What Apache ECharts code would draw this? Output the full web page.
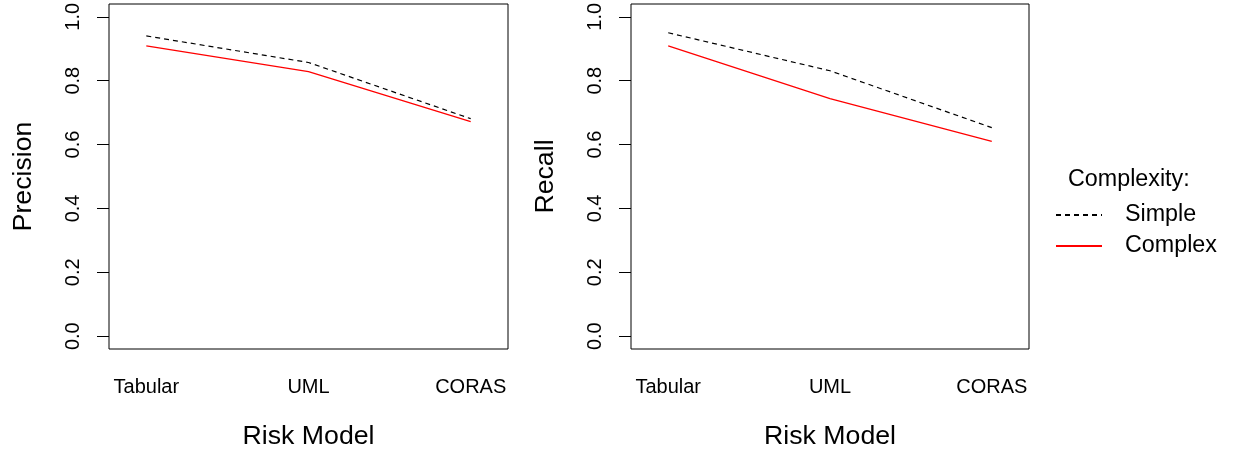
<!DOCTYPE html>
<html>
<head>
<meta charset="utf-8">
<script src="https://cdn.jsdelivr.net/npm/echarts@6/dist/echarts.min.js"></script>
<style>
html,body{margin:0;padding:0;background:#fff;}
#chart{width:1234px;height:455px;}
</style>
</head>
<body>
<div id="chart"></div>
<script>
const categories = ['Tabular', 'UML', 'CORAS'];
const precisionSimple = [0.940, 0.857, 0.681];
const precisionComplex = [0.909, 0.828, 0.672];
const recallSimple = [0.950, 0.831, 0.653];
const recallComplex = [0.909, 0.744, 0.610];
const yTicks = [0, 0.2, 0.4, 0.6, 0.8, 1.0];
const xTicks = categories.map((c, i) => i + 1);
const panelTitles = ['Precision', 'Recall'];
const xTitle = 'Risk Model';
const legendTitle = 'Complexity:';
const seriesNames = ['Simple', 'Complex'];

const FONT = 'Liberation Sans, Arial, sans-serif';
const toPts = arr => arr.map((v, i) => [i + 1, v]);

const grids = [
  {left: 109, top: 4, width: 399, height: 348},
  {left: 631, top: 4, width: 398, height: 348}
];

function xAxis(idx) {
  return {
    type: 'value', gridIndex: idx, min: 0.77, max: 3.23,
    name: xTitle, nameLocation: 'middle', nameGap: 74,
    nameTextStyle: {fontFamily: FONT, fontSize: 26.7, color: '#000'},
    axisLine: {show: false}, axisTick: {show: false}, splitLine: {show: false},
    axisLabel: {
      customValues: xTicks, margin: 28, fontFamily: FONT, fontSize: 20, color: '#000',
      formatter: v => categories[Math.round(v) - 1] || ''
    }
  };
}
function yAxis(idx) {
  return {
    type: 'value', gridIndex: idx, min: -0.04, max: 1.04,
    name: panelTitles[idx], nameLocation: 'middle', nameGap: 72, nameRotate: 90,
    nameTextStyle: {fontFamily: FONT, fontSize: 26.7, color: '#000'},
    axisLine: {show: false}, splitLine: {show: false},
    axisTick: {show: true, inside: false, length: 12, customValues: yTicks,
      lineStyle: {color: '#000', width: 1}},
    axisLabel: {customValues: yTicks, rotate: 90, margin: 26, fontFamily: FONT,
      fontSize: 20, color: '#000', formatter: v => v.toFixed(1)}
  };
}
const simpleStyle = {color: '#000', width: 1.2, type: [5, 4]};
const complexStyle = {color: '#ff0000', width: 1.3, type: 'solid'};
function mkSeries(name, data, idx, style) {
  return {
    type: 'line', name: name, xAxisIndex: idx, yAxisIndex: idx,
    data: toPts(data), symbol: 'none', silent: true, animation: false,
    lineStyle: style, itemStyle: {color: style.color}
  };
}

const chart = echarts.init(document.getElementById('chart'));
chart.setOption({
  animation: false,
  backgroundColor: '#fff',
  grid: grids.map(g => Object.assign({show: true, borderColor: '#000', borderWidth: 1,
    backgroundColor: 'transparent'}, g)),
  xAxis: [xAxis(0), xAxis(1)],
  yAxis: [yAxis(0), yAxis(1)],
  title: {
    text: legendTitle, left: 1063, top: 163,
    textStyle: {fontFamily: FONT, fontSize: 23.3, fontWeight: 'normal', color: '#000'}
  },
  legend: {
    orient: 'vertical', left: 1050, top: 198,
    data: seriesNames, itemWidth: 46, itemHeight: 14, itemGap: 7,
    itemStyle: {opacity: 0},
    textStyle: {fontFamily: FONT, fontSize: 23.3, color: '#000', lineHeight: 24, padding: [0, 0, 0, 18]},
    selectedMode: false
  },
  series: [
    mkSeries(seriesNames[0], precisionSimple, 0, simpleStyle),
    mkSeries(seriesNames[1], precisionComplex, 0, complexStyle),
    mkSeries(seriesNames[0], recallSimple, 1, simpleStyle),
    mkSeries(seriesNames[1], recallComplex, 1, complexStyle)
  ]
});
</script>
</body>
</html>
